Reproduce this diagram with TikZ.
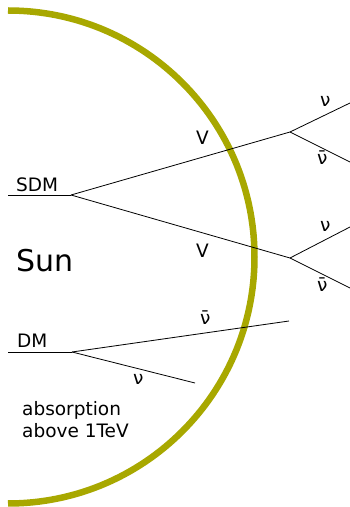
\documentclass[tikz,border=0pt]{standalone}
\usepackage{fontspec}
\setmainfont{DejaVu Sans}
\definecolor{sunolive}{RGB}{168,168,0}
\begin{document}
\begin{tikzpicture}[x=1pt, y=1pt, particle/.style={line width=0.8pt}, lbl/.style={anchor=base west, inner sep=0pt, font=\fontsize{18.5}{22}\selectfont}, sunedge/.style={draw=sunolive, line width=6.5pt}]
	\useasboundingbox (0,0) rectangle (350,507);
	% surface of the sun
	\draw[sunedge] (8,496.5) arc[start angle=90, end angle=-90, radius=246.5pt];

	\coordinate (sdmin) at (8,312);
	\coordinate (sdm) at (71,312);
	\coordinate (vtop) at (290,375);
	\coordinate (vbot) at (290,249);
	\coordinate (nutop) at (350,404);
	\coordinate (nubartop) at (350,345);
	\coordinate (nubot) at (350,280);
	\coordinate (nubarbot) at (350,219);
	\coordinate (dmin) at (8,155);
	\coordinate (dm) at (72,155);
	\coordinate (dmnubar) at (289,186);
	\coordinate (dmnu) at (195,124);

	\draw[particle] (sdmin) -- (sdm);
	\draw[particle] (sdm) -- (vtop);
	\draw[particle] (sdm) -- (vbot);
	\draw[particle] (vtop) -- (nutop);
	\draw[particle] (vtop) -- (nubartop);
	\draw[particle] (vbot) -- (nubot);
	\draw[particle] (vbot) -- (nubarbot);
	\draw[particle] (dmin) -- (dm);
	\draw[particle] (dm) -- (dmnubar);
	\draw[particle] (dm) -- (dmnu);

	\node[lbl] (sdmlbl) at (16,315) {SDM};
	\node[lbl, font=\fontsize{30}{34}\selectfont] (sunlbl) at (16,235) {Sun};
	\node[lbl] (dmlbl) at (17,159) {DM};
	\node[lbl] (vtoplbl) at (196,362) {V};
	\node[lbl] (vbotlbl) at (196,249) {V};
	\node[lbl] (nutoplbl) at (320,400) {ν};
	\node[lbl] (nubartoplbl) at (317,342) {ν̄};
	\node[lbl] (nubotlbl) at (320,275) {ν};
	\node[lbl] (nubarbotlbl) at (317,215) {ν̄};
	\node[lbl] (dmnubarlbl) at (200,182) {ν̄};
	\node[lbl] (dmnulbl) at (133,122) {ν};
	\node[lbl] (abslbl) at (22,92) {absorption};
	\node[lbl] (abovelbl) at (22,70) {above 1TeV};
\end{tikzpicture}
\end{document}
